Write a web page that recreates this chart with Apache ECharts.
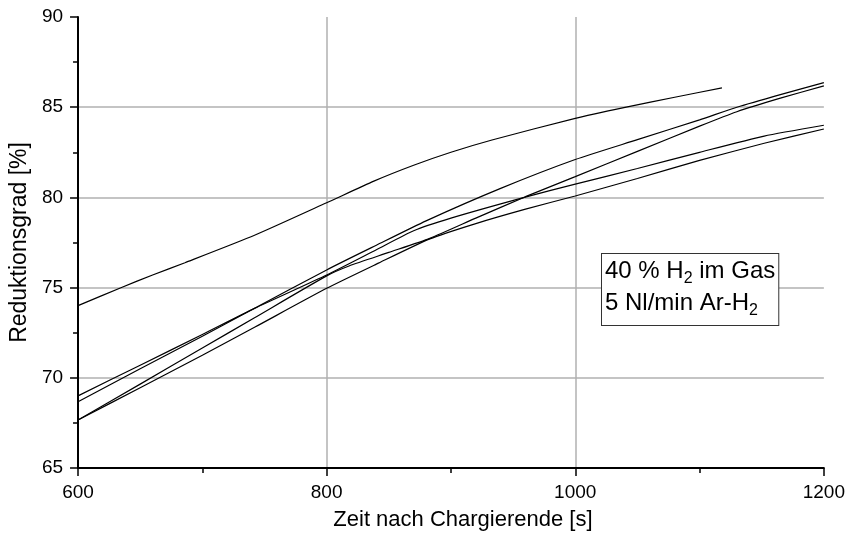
<!DOCTYPE html>
<html>
<head>
<meta charset="utf-8">
<script src="https://cdn.jsdelivr.net/npm/echarts@6/dist/echarts.min.js"></script>
<style>
html,body{margin:0;padding:0;background:#fff;}
#c{width:848px;height:542px;}
</style>
</head>
<body>
<div id="c"></div>
<script>
// Axis ticks
const xTicks = [600, 800, 1000, 1200];
const yTicks = [65, 70, 75, 80, 85, 90];

// Curve 1 (top, ends early)
const x1 = [600, 634, 660, 686, 742, 800, 838, 870, 900, 933, 1000, 1041, 1080, 1118];
const y1 = [74.0, 74.98, 75.7, 76.38, 77.9, 79.7, 80.9, 81.78, 82.5, 83.18, 84.38, 85.0, 85.55, 86.07];

// Curve 2 (ends highest at 1200)
const x2 = [600, 650, 700, 742, 800, 840, 880, 940, 1000, 1050, 1100, 1130, 1165, 1200];
const y2 = [68.67, 70.5, 72.3, 73.85, 75.98, 77.35, 78.7, 80.5, 82.1, 83.2, 84.3, 85.0, 85.7, 86.36];

// Curve 3
const x3 = [600, 650, 700, 742, 800, 818, 850, 883, 920, 960, 1000, 1050, 1100, 1130, 1165, 1200];
const y3 = [67.66, 69.65, 71.65, 73.33, 75.65, 76.2, 76.95, 77.73, 78.85, 80.04, 81.15, 82.55, 83.95, 84.75, 85.5, 86.18];

// Curve 4
const x4 = [600, 650, 700, 742, 800, 840, 870, 900, 959, 1000, 1050, 1100, 1152, 1200];
const y4 = [69.0, 70.7, 72.4, 73.85, 75.7, 77.1, 78.15, 78.85, 80.0, 80.74, 81.6, 82.5, 83.4, 84.0];

// Curve 5
const x5 = [600, 650, 700, 742, 800, 840, 883, 920, 960, 1000, 1050, 1100, 1152, 1200];
const y5 = [67.66, 69.45, 71.25, 72.8, 74.96, 76.3, 77.7, 78.55, 79.35, 80.08, 81.05, 82.05, 83.0, 83.79];

const curves = [[x1, y1], [x2, y2], [x3, y3], [x4, y4], [x5, y5]];

const FONT = '"Liberation Sans", Arial, sans-serif';
const chart = echarts.init(document.getElementById('c'), null, {renderer: 'canvas'});

const axisCommon = {
  axisLine: {show: true, onZero: false, lineStyle: {color: '#000', width: 2}},
  axisTick: {show: true, inside: false, length: 8, lineStyle: {color: '#000', width: 1.5}},
  minorTick: {show: true, splitNumber: 2, length: 5, lineStyle: {color: '#000', width: 1.5}},
  splitLine: {show: true, showMinLine: false, showMaxLine: false, lineStyle: {color: '#b0b0b0', width: 1.5}},
  axisLabel: {color: '#000', fontSize: 19, fontFamily: FONT, margin: 15, formatter: function (v) { return String(v); }},
  nameTextStyle: {color: '#000', fontSize: 22, fontFamily: FONT},
  nameLocation: 'middle'
};

chart.setOption({
  animation: false,
  backgroundColor: '#fff',
  grid: {left: 78, right: 23, top: 17, bottom: 74, containLabel: false},
  xAxis: Object.assign({}, axisCommon, {
    type: 'value',
    min: xTicks[0], max: xTicks[xTicks.length - 1], interval: xTicks[1] - xTicks[0],
    name: 'Zeit nach Chargierende [s]',
    nameGap: 41,
    nameTextStyle: Object.assign({}, axisCommon.nameTextStyle, {padding: [0, 0, 0, 24]})
  }),
  yAxis: Object.assign({}, axisCommon, {
    type: 'value',
    min: yTicks[0], max: yTicks[yTicks.length - 1], interval: yTicks[1] - yTicks[0],
    name: 'Reduktionsgrad [%]',
    nameGap: 45,
    nameRotate: 90,
    nameTextStyle: Object.assign({}, axisCommon.nameTextStyle, {fontSize: 23})
  }),
  series: curves.map(function (c) {
    return {
      type: 'line',
      data: c[0].map(function (x, i) { return [x, c[1][i]]; }),
      showSymbol: false,
      smooth: 0.2,
      lineStyle: {color: '#000', width: 1.2},
      silent: true
    };
  }),
  graphic: [{
    type: 'text',
    left: 601,
    top: 253,
    z: 100,
    style: {
      text: '40 % H{sub|2} im Gas\n5 Nl/min Ar-H{sub|2}',
      fontSize: 24,
      fontFamily: FONT,
      fill: '#000',
      lineHeight: 32,
      backgroundColor: '#fff',
      borderColor: '#333',
      borderWidth: 1,
      padding: [1, 3, 6, 3],
      rich: {
        sub: {fontSize: 16, fontFamily: FONT, fill: '#000', lineHeight: 15, verticalAlign: 'bottom'}
      }
    }
  }]
});
</script>
</body>
</html>
